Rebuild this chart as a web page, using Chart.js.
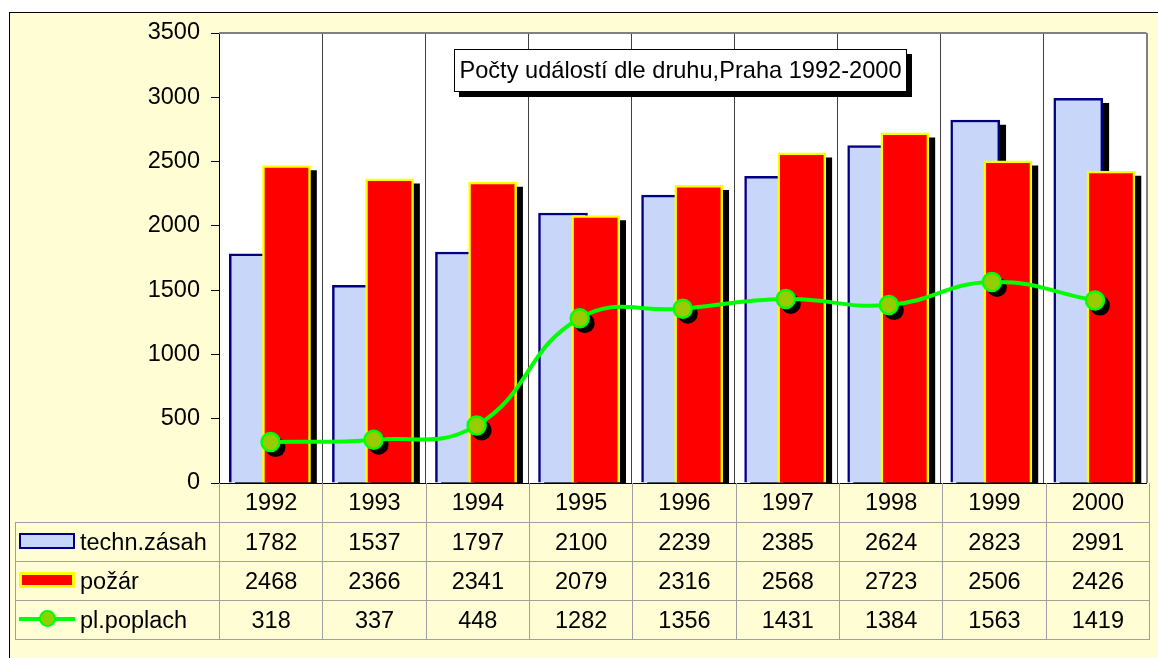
<!DOCTYPE html>
<html>
<head>
<meta charset="utf-8">
<script src="https://cdn.jsdelivr.net/npm/chart.js"></script>
<style>
    body { margin: 0; background: #ffffff; font-family: 'Liberation Sans', Arial, sans-serif; }
    #frame { position: absolute; left: 9px; top: 12px; right: -5px; bottom: -5px; border-left: 1px solid #000; border-top: 1px solid #000; background: #FFFDD3; }
    #chart { position: absolute; left: 0; top: 0; }
    #title { position: absolute; left: 454px; top: 49px; width: 453px; height: 43px; box-sizing: border-box; border: 1px solid #000; background: #fff; box-shadow: 5px 5px 0 #000; font-size: 23.6px; line-height: 41px; text-align: center; color: #000; white-space: nowrap; }
    #table { position: absolute; left: 15px; top: 483px; border-collapse: collapse; table-layout: fixed; width: 1135px; font-size: 23.5px; color: #000; }
    #table td { border: 1px solid #a0a0a0; text-align: center; padding: 0; height: 38px; white-space: nowrap; }
    #table tr.years td { border-top: none; height: 39px; }
    #table tr.years td.blank { border-left: none; }
    #table td.name { text-align: left; padding-left: 3px; }
    .key { display: inline-block; vertical-align: middle; margin-right: 5px; box-sizing: border-box; position: relative; top: -2px; }
    .key.blue { width: 56px; height: 16px; border: 2px solid #000080; background: #C8D6FA; }
    .key.red { width: 56px; height: 16px; border: 3px solid #FFFF00; background: #FF0000; }
    .key.line { width: 56px; height: 4px; background: #00FF00; }
    .key.line span { position: absolute; left: 20px; top: -7px; width: 17px; height: 17px; box-sizing: border-box; border-radius: 50%; border: 2px solid #00FF00; background: #99CC00; }
</style>
</head>
<body>
<div id="frame"></div>
<canvas id="chart" width="1158" height="658"></canvas>
<div id="title">Počty událostí dle druhu,Praha 1992-2000</div>
<table id="table"></table>
<script>
// --- Data ---
const years = ['1992', '1993', '1994', '1995', '1996', '1997', '1998', '1999', '2000'];
const technZasah = [1782, 1537, 1797, 2100, 2239, 2385, 2624, 2823, 2991];
const pozar = [2468, 2366, 2341, 2079, 2316, 2568, 2723, 2506, 2426];
const plPoplach = [318, 337, 448, 1282, 1356, 1431, 1384, 1563, 1419];
const yTicks = [0, 500, 1000, 1500, 2000, 2500, 3000, 3500];

const seriesNames = ['techn.zásah', 'požár', 'pl.poplach'];

// position of each series inside its year slot (0 = left edge, 1 = right edge)
const toPoints = (values, shift) => values.map((v, i) => ({ x: i + shift, y: v }));

// Excel style drop shadows: draw a copy of the dataset moved right/down, clipped to the plot
const shadowPlugin = {
    id: 'shadows',
    beforeDatasetDraw(chart, args) {
        const ds = chart.data.datasets[args.index];
        if (!ds.shadowOffset) return;
        const a = chart.chartArea;
        const ctx = chart.ctx;
        ctx.save();
        ctx.beginPath();
        ctx.rect(a.left, a.top, a.right - a.left, a.bottom - a.top);
        ctx.clip();
        ctx.translate(ds.shadowOffset[0], ds.shadowOffset[1]);
    },
    afterDatasetDraw(chart, args) {
        const ds = chart.data.datasets[args.index];
        if (ds.shadowOffset) chart.ctx.restore();
    }
};

// white plot area with grey top border
const plotAreaPlugin = {
    id: 'plotArea',
    beforeDraw(chart) {
        const a = chart.chartArea;
        const ctx = chart.ctx;
        ctx.save();
        ctx.fillStyle = '#ffffff';
        ctx.fillRect(a.left, a.top, a.right - a.left, a.bottom - a.top);
        ctx.restore();
    },
    afterDraw(chart) {
        const a = chart.chartArea;
        const ctx = chart.ctx;
        ctx.save();
        ctx.strokeStyle = '#808080';
        ctx.lineWidth = 2;
        ctx.beginPath();
        ctx.moveTo(a.left, a.top);
        ctx.lineTo(a.right, a.top);
        ctx.stroke();
        ctx.restore();
    }
};

const fontFamily = "'Liberation Sans', Arial, sans-serif";

new Chart(document.getElementById('chart').getContext('2d'), {
    type: 'bar',
    data: {
        datasets: [
            {
                type: 'line',
                label: seriesNames[2],
                data: toPoints(plPoplach, 0.5),
                showLine: false,
                pointRadius: 9,
                pointBorderWidth: 2.5,
                pointBackgroundColor: '#99CC00',
                pointBorderColor: '#00FF00',
                clip: false,
                order: 0
            },
            {
                type: 'line',
                label: seriesNames[2] + ' line',
                data: toPoints(plPoplach, 0.5),
                borderColor: '#00FF00',
                borderWidth: 4,
                pointRadius: 0,
                tension: 0.45,
                fill: false,
                clip: false,
                order: 1
            },
            {
                type: 'line',
                label: seriesNames[2] + ' shadow',
                data: toPoints(plPoplach, 0.5),
                showLine: false,
                pointRadius: 10,
                pointBorderWidth: 0,
                pointBackgroundColor: '#000000',
                pointBorderColor: '#000000',
                shadowOffset: [5, 5],
                clip: false,
                order: 2
            },
            {
                label: seriesNames[1],
                data: toPoints(pozar, 0.655),
                backgroundColor: '#FF0000',
                borderColor: '#FFFF00',
                borderWidth: 2.5,
                barThickness: 48,
                grouped: false,
                clip: 0,
                order: 3
            },
            {
                label: seriesNames[1] + ' shadow',
                data: toPoints(pozar, 0.655),
                backgroundColor: '#000000',
                borderWidth: 0,
                barThickness: 48,
                grouped: false,
                shadowOffset: [6, 5],
                clip: false,
                order: 4
            },
            {
                label: seriesNames[0],
                data: toPoints(technZasah, 0.338),
                backgroundColor: '#C8D6FA',
                borderColor: '#000080',
                borderWidth: 2.5,
                barThickness: 49,
                grouped: false,
                clip: 0,
                order: 5
            },
            {
                label: seriesNames[0] + ' shadow',
                data: toPoints(technZasah, 0.338),
                backgroundColor: '#000000',
                borderWidth: 0,
                barThickness: 49,
                grouped: false,
                shadowOffset: [6, 5],
                clip: false,
                order: 6
            }
        ]
    },
    options: {
        responsive: false,
        animation: false,
        devicePixelRatio: 1,
        layout: { padding: { left: 0, top: 33, right: 9, bottom: 175 } },
        scales: {
            x: {
                type: 'linear',
                offset: false,
                min: 0,
                max: years.length,
                afterBuildTicks: s => { s.ticks = years.concat(['']).map((y, i) => ({ value: i })); },
                afterFit: s => { s.height = 0; },
                ticks: { display: false },
                grid: {
                    offset: false,
                    drawTicks: false,
                    color: ctx => ctx.tick && ctx.tick.value === years.length ? '#808080' : '#404040',
                    lineWidth: ctx => ctx.tick && ctx.tick.value === years.length ? 2 : 1
                },
                border: { display: true, color: '#000000', width: 1 }
            },
            y: {
                min: yTicks[0],
                max: yTicks[yTicks.length - 1],
                afterBuildTicks: s => { s.ticks = yTicks.map(v => ({ value: v })); },
                afterFit: s => { s.width = 219; },
                ticks: {
                    color: '#000000',
                    padding: 11,
                    font: { family: fontFamily, size: 23.5 },
                    callback: v => String(v)
                },
                grid: {
                    drawOnChartArea: false,
                    drawTicks: true,
                    tickLength: 8,
                    color: '#000000'
                },
                border: { display: true, color: '#000000', width: 1 }
            }
        },
        plugins: {
            legend: { display: false },
            tooltip: { enabled: false },
            title: { display: false }
        }
    },
    plugins: [plotAreaPlugin, shadowPlugin]
});

// --- Data table under the chart ---
const table = document.getElementById('table');
let html = '<colgroup><col style="width:204px">' + years.map(() => '<col>').join('') + '</colgroup>';
html += '<tr class="years"><td class="blank"></td>' + years.map(y => '<td>' + y + '</td>').join('') + '</tr>';
const rows = [
    { name: seriesNames[0], key: '<span class="key blue"></span>', values: technZasah },
    { name: seriesNames[1], key: '<span class="key red"></span>', values: pozar },
    { name: seriesNames[2], key: '<span class="key line"><span></span></span>', values: plPoplach }
];
rows.forEach(r => {
    html += '<tr><td class="name">' + r.key + r.name + '</td>' + r.values.map(v => '<td>' + v + '</td>').join('') + '</tr>';
});
table.innerHTML = html;
</script>
</body>
</html>
